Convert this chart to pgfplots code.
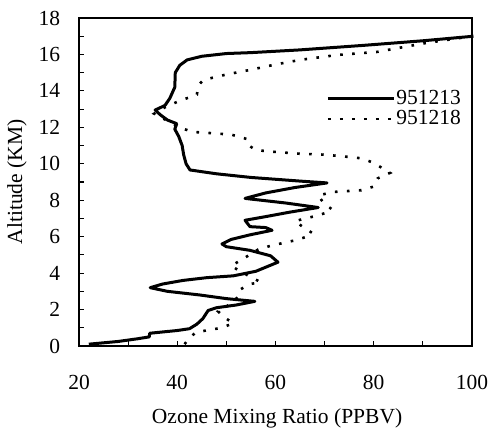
\documentclass[border=0pt]{standalone}
\usepackage{fontspec}
\setmainfont{Liberation Serif}
\usepackage{pgfplots}
\pgfplotsset{compat=1.18}

\begin{document}
\begin{tikzpicture}[font=\fontsize{10.75bp}{12bp}\selectfont]
\useasboundingbox (-39.5bp,-43.5bp) rectangle (206.5bp,173bp);
\begin{axis}[
  at={(0,0)}, anchor=south west,
  scale only axis, width=196.5bp, height=164bp,
  xmin=20, xmax=100, ymin=0, ymax=18,
  xtick={20,40,...,100}, minor xtick={30,50,70,90},
  ytick={0,2,...,18}, minor ytick={1,3,...,17},
  tick pos=left, tick align=inside,
  major tick length=2.5bp, minor tick length=2.5bp,
  every tick/.style={black, line width=0.6bp},
  axis line style={line width=1bp},
  /pgf/number format/assume math mode=true,
  xticklabel style={anchor=center, yshift=-18bp},
  yticklabel style={anchor=east, xshift=-5.9bp},
  xlabel={Ozone Mixing Ratio (PPBV)},
  ylabel={Altitude (KM)},
  xlabel style={at={(axis description cs:0.504,-0.2195)}, anchor=center},
  ylabel style={at={(axis description cs:-0.158,0.5)}, anchor=center},
  clip=false,
  legend style={draw=none, fill=none, at={(axis cs:70.3,14.13)}, anchor=north west,
    inner sep=0pt, row sep=0.7bp, column sep=0pt,
    nodes={inner sep=0.5bp}},
  legend cell align=left,
  legend image code/.code={\draw[#1] (0bp,0bp) -- (33bp,0bp);},
]
\addplot[black, line width=1.5bp, line join=round] coordinates {
(22,0.1) (24,0.15) (28,0.25) (32,0.4) (34.3,0.5) (34.4,0.7) (40,0.85)
(42.5,0.95) (44,1.2) (45.2,1.5) (46.3,1.95) (48,2.1) (52,2.25) (55.8,2.45)
(50,2.6) (44.6,2.8) (38,3.0) (34.5,3.2) (37,3.4) (41.2,3.6) (46,3.75)
(51.4,3.85) (56,4.1) (60.5,4.6) (59,4.95) (54.8,5.25) (50,5.45) (49.1,5.6)
(51,5.85) (54.8,6.1) (59.3,6.35) (58,6.5) (54.8,6.55) (53.8,6.9) (58,7.1)
(63,7.35) (68.7,7.6) (62,7.85) (53.8,8.1) (58,8.4) (64,8.7) (70.5,8.95)
(65,9.05) (55,9.25) (48,9.45) (42.6,9.66) (41.8,10.0) (41.3,10.5) (41,11.0)
(40.3,11.5) (39.5,11.9) (39.9,12.2) (38,12.4) (36.5,12.7) (35.5,12.95)
(37.5,13.2) (38.5,13.6) (39.5,14.2) (39.6,15.0) (40.5,15.4) (42,15.7)
(45,15.9) (50,16.05) (55,16.1) (65,16.25) (78,16.5) (90,16.75) (100.3,17.0)
};
\addlegendentry{951213}
\addplot[black, line width=1.3bp, dash pattern=on 1.3bp off 4.7bp] coordinates {
(41.5,0.1) (42.3,0.4) (43.8,0.75) (46.5,0.88) (49.1,1.0) (51.4,1.25)
(49.7,1.55) (48.3,1.9) (50.8,2.3) (52.4,2.7) (52.8,3.1) (54.8,3.4) (57,3.5)
(52.8,4.1) (51,4.4) (53.5,4.8) (56.5,5.3) (59,5.5) (61.5,5.65) (64,5.8)
(66.4,6.0) (67.5,6.2) (65.5,6.55) (64,6.85) (66,7.0) (68.5,7.15) (70.7,7.35)
(71.5,7.5) (69.8,7.85) (68.7,8.25) (71.5,8.45) (74.5,8.5) (77.5,8.55)
(80,8.75) (80.8,9.2) (83.3,9.5) (80,10.05) (77.5,10.3) (74,10.4) (70,10.5)
(65,10.55) (60,10.65) (56,10.75) (54.6,11.0) (54.3,11.35) (51,11.6)
(46,11.7) (43,11.75) (40.5,12.0) (38.5,12.3) (37,12.5) (35.3,12.75)
(37.5,13.1) (40,13.4) (42,13.6) (44,13.8) (44.3,14.3) (45.3,14.6) (50,14.9)
(54.8,15.15) (60,15.45) (65,15.7) (72.5,15.97) (80.7,16.14) (90,16.6)
(100,17.0)
};
\addlegendentry{951218}
\end{axis}
\end{tikzpicture}
\end{document}
